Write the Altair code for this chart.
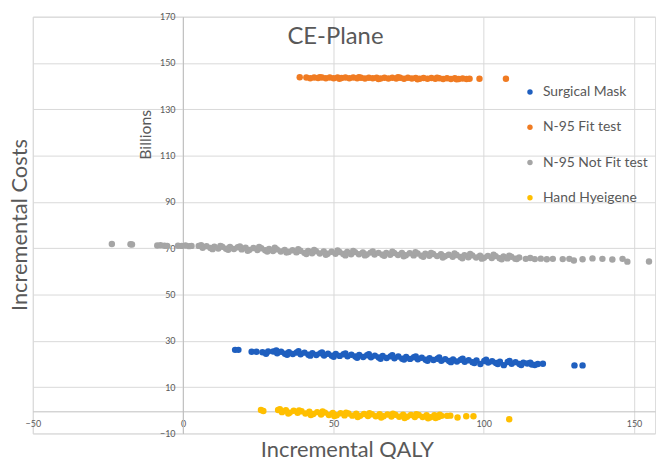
import altair as alt
import pandas as pd

series_names = ["Surgical Mask", "N-95 Fit test", "N-95 Not Fit test", "Hand Hyeigene"]
series_colors = ["#1f5fbf", "#f07b22", "#a5a5a5", "#ffbf00"]

x_ticks = [-50, 0, 50, 100, 150]
y_ticks = [-10, 10, 30, 50, 70, 90, 110, 130, 150, 170]

# Surgical Mask
sm_x = [17.3, 18.4, 22.8, 24.4, 26.4, 27.6, 28.3,
        30.0, 31.3, 32.6, 33.9, 35.2, 36.5, 37.8, 39.1, 40.4, 41.7, 43.0, 44.3, 45.6, 46.9,
        48.2, 49.5, 50.8, 52.1, 53.4, 54.7, 56.0, 57.3, 58.6, 59.9, 61.2, 62.5, 63.8, 65.1,
        66.4, 67.7, 69.0, 70.3, 71.6, 72.9, 74.2, 75.5, 76.8, 78.1, 79.4, 80.7, 82.0, 83.3,
        84.6, 85.9, 87.2, 88.5, 89.8, 91.1, 92.4, 93.7, 95.0, 96.3, 97.6, 98.9, 100.2, 101.5,
        102.8, 104.1, 105.4, 106.7, 108.0, 109.3, 110.6, 111.9, 113.2, 114.5,
        117.0, 118.0, 119.7, 130.2, 132.9,
        31.0, 34.6, 38.4, 42.3, 46.2, 50.1, 54.0, 57.9, 61.8, 65.7, 69.6, 73.5, 77.4, 81.3,
        85.2, 89.1, 93.0, 96.9, 100.8, 104.7, 108.6, 112.5, 115.5, 116.0]
sm_y = [26.1, 26.1, 25.3, 25.3, 25.1, 24.4, 25.4,
        25.4, 24.6, 25.3, 24.4, 25.1, 24.3, 25.0, 24.2, 24.9, 24.0, 24.7, 23.9, 24.6, 23.7,
        24.4, 23.6, 24.3, 23.5, 24.2, 23.3, 24.0, 23.2, 23.9, 23.0, 23.8, 22.9, 23.6, 22.8,
        23.5, 22.6, 23.3, 22.5, 23.2, 22.3, 23.0, 22.2, 22.9, 22.0, 22.7, 21.8, 22.5, 21.7,
        22.3, 21.4, 22.1, 21.3, 22.0, 21.1, 21.8, 21.0, 21.6, 20.8, 21.5, 20.0, 21.3, 20.6,
        21.2, 20.4, 21.0, 19.5, 20.9, 20.1, 20.8, 20.0, 20.6, 20.2,
        19.6, 20.0, 20.1, 19.4, 19.4,
        25.8, 24.0, 25.5, 23.6, 25.0, 23.1, 24.6, 22.7, 24.2, 22.3, 23.8, 21.9, 23.3, 21.4,
        22.8, 20.8, 22.3, 20.4, 21.8, 20.0, 21.3, 19.6, 20.5, 19.8]

# N-95 Fit test
fit_x = [38.8, 41.0, 42.3, 43.6, 44.9, 46.2, 47.5, 48.8, 50.1, 51.4, 52.7, 54.0, 55.3, 56.6,
         57.9, 59.2, 60.5, 61.8, 63.1, 64.4, 65.7, 67.0, 68.3, 69.6, 70.9, 72.2, 73.5, 74.8,
         76.1, 77.4, 78.7, 80.0, 81.3, 82.6, 83.9, 85.2, 86.5, 87.8, 89.1, 90.4, 91.7, 93.0,
         94.3, 95.3, 98.6, 107.4,
         45.5, 52.0, 58.5, 65.0, 71.5, 78.0, 84.5, 91.0]
fit_y = [143.8, 143.7, 143.4, 143.7, 143.5, 143.7, 143.4, 143.7, 143.4, 143.7, 143.5, 143.7,
         143.4, 143.7, 143.4, 143.6, 143.3, 143.6, 143.4, 143.6, 143.3, 143.6, 143.3, 143.6,
         143.3, 143.6, 143.2, 143.6, 143.3, 143.5, 143.2, 143.5, 143.2, 143.5, 143.2, 143.4,
         143.1, 143.4, 143.1, 143.4, 143.1, 143.3, 143.1, 143.2, 143.2, 143.2,
         143.9, 143.2, 143.9, 143.1, 143.8, 143.0, 143.6, 143.0]

# N-95 Not Fit test
nofit_x = [-23.7, -17.5, -17.0, -8.6, -7.5, -6.2, -5.3, -1.7, -0.5, 0.8, 2.0, 2.8,
           5.2, 6.5, 7.8, 9.1, 10.4, 11.7, 13.0, 14.3, 15.6, 16.9, 18.2, 19.5, 20.8, 22.1,
           23.4, 24.7, 26.0, 27.3, 28.6, 29.9, 31.2, 32.5, 33.8, 35.1, 36.4, 37.7, 39.0, 40.3,
           41.6, 42.9, 44.2, 45.5, 46.8, 48.1, 49.4, 50.7, 52.0, 53.3, 54.6, 55.9, 57.2, 58.5,
           59.8, 61.1, 62.4, 63.7, 65.0, 66.3, 67.6, 68.9, 70.2, 71.5, 72.8, 74.1, 75.4, 76.7,
           78.0, 79.3, 80.6, 81.9, 83.2, 84.5, 85.8, 87.1, 88.4, 89.7, 91.0, 92.3, 93.6, 94.9,
           96.2, 97.5, 98.8, 100.1, 101.4, 102.7, 104.0, 105.3, 106.6, 107.9, 109.2, 110.5, 111.8,
           114.0, 115.5, 117.0, 119.0, 121.0, 123.0, 126.3, 128.5, 130.0, 132.9, 136.2, 139.5,
           142.8, 146.2, 147.8, 155.0,
           6.0, 9.8, 12.4, 15.0, 18.9, 21.5, 25.3, 28.0, 30.5, 34.4, 38.3, 41.0, 43.6, 47.5,
           51.4, 54.0, 56.6, 60.5, 63.1, 66.9, 69.6, 73.4, 77.3, 79.9, 82.5, 86.4, 90.3, 92.9,
           95.5, 99.4, 103.3, 106.0, 108.5, 111.0]
nofit_y = [71.8, 71.7, 71.6, 71.2, 71.3, 71.1, 71.0, 71.1, 71.0, 71.2, 70.9, 71.0,
           71.0, 70.2, 70.9, 70.1, 70.7, 69.9, 70.6, 69.8, 70.5, 69.7, 70.4, 69.5, 70.2, 69.3,
           70.1, 69.2, 70.0, 69.1, 69.7, 68.8, 69.5, 68.6, 69.3, 68.4, 69.1, 68.2, 68.9, 68.0,
           68.8, 67.8, 68.7, 67.7, 68.6, 67.6, 68.5, 67.6, 68.4, 67.5, 68.4, 67.4, 68.3, 67.4,
           68.2, 67.3, 68.1, 67.3, 68.0, 67.2, 68.0, 67.2, 67.9, 67.1, 67.9, 67.0, 67.8, 66.9,
           67.7, 66.8, 67.6, 66.7, 67.5, 66.6, 67.4, 66.5, 67.2, 66.3, 67.1, 66.2, 67.0, 66.1,
           66.9, 66.0, 66.8, 65.9, 66.7, 65.8, 66.6, 65.7, 66.4, 65.6, 66.3, 65.5, 66.0,
           65.4, 65.8, 65.3, 65.5, 65.2, 65.4, 65.3, 65.4, 64.7, 65.2, 65.6, 65.4,
           65.1, 65.4, 64.2, 64.3,
           71.3, 69.6, 71.0, 69.3, 70.8, 68.9, 70.5, 68.6, 70.2, 68.1, 69.6, 67.5, 69.3, 67.2,
           69.0, 66.9, 68.8, 66.9, 68.6, 66.7, 68.5, 66.5, 68.3, 66.3, 68.0, 66.0, 67.7, 65.7,
           67.5, 65.5, 67.2, 65.2, 66.8, 65.3]

# Hand Hyeigene
hh_x = [25.9, 26.7,
        31.6, 32.9, 34.2, 35.5, 36.8, 38.1, 39.4, 40.7, 42.0, 43.3, 44.6, 45.9, 47.2, 48.5,
        49.8, 51.1, 52.4, 53.7, 55.0, 56.3, 57.6, 58.9, 60.2, 61.5, 62.8, 64.1, 65.4, 66.7,
        68.0, 69.3, 70.6, 71.9, 73.2, 74.5, 75.8, 77.1, 78.4, 79.7, 81.0, 82.3, 83.6, 84.9,
        86.0, 87.8, 88.9, 91.3, 94.2, 96.6, 108.5,
        32.2, 35.0, 38.6, 42.5, 46.4, 50.3, 54.2, 58.1, 62.0, 65.9, 69.8, 73.7, 77.6, 81.5,
        85.4, 84.0]
hh_y = [0.1, -0.3,
        0.1, -0.8, -0.0, -1.0, -0.2, -1.1, -0.4, -1.4, -0.6, -1.6, -0.8, -1.8, -1.0, -2.0,
        -1.2, -2.1, -1.3, -2.2, -1.4, -2.3, -1.5, -2.4, -1.6, -2.5, -1.7, -2.6, -1.7, -2.6,
        -1.8, -2.7, -1.9, -2.8, -1.9, -2.8, -2.0, -2.9, -2.0, -2.9, -2.1, -3.0, -2.1, -2.9,
        -2.4, -2.4, -2.3, -3.1, -2.6, -2.6, -3.9,
        0.5, -1.4, -0.1, -2.0, -0.5, -2.5, -1.0, -2.9, -1.3, -3.1, -1.5, -3.3, -1.7, -3.4,
        -1.9, -3.3]

rows = []
for name, xs, ys in [(series_names[0], sm_x, sm_y), (series_names[1], fit_x, fit_y),
                     (series_names[2], nofit_x, nofit_y), (series_names[3], hh_x, hh_y)]:
    for a, b in zip(xs, ys):
        rows.append({"series": name, "x": a, "y": b})
df = pd.DataFrame(rows)

FONT = "Lato"
TXT = "#595959"

points = alt.Chart(df).mark_circle(size=42, opacity=1).encode(
    x=alt.X("x:Q", scale=alt.Scale(domain=[-50, 157], nice=False, zero=False),
            axis=alt.Axis(values=x_ticks, offset=-22.3, grid=True, gridColor="#d9d9d9",
                          domainColor="#bfbfbf", ticks=False, labelFontSize=9,
                          labelColor=TXT, labelPadding=8, labelFont=FONT, title=None,
                          labelFlush=False)),
    y=alt.Y("y:Q", scale=alt.Scale(domain=[-10, 170], nice=False, zero=False),
            axis=alt.Axis(values=y_ticks, offset=-151.3, grid=True, gridColor="#d9d9d9",
                          domainColor="#bfbfbf", ticks=False, labelFontSize=9,
                          labelColor=TXT, labelPadding=8, labelFont=FONT, title=None,
                          labelFlush=False)),
    color=alt.Color("series:N", scale=alt.Scale(domain=series_names, range=series_colors),
                    legend=alt.Legend(orient="none", legendX=494, legendY=69, title=None,
                                      symbolType="circle", symbolSize=30, labelFontSize=14,
                                      labelColor=TXT, labelFont=FONT, rowPadding=21.5,
                                      labelOffset=6, padding=0, symbolStrokeWidth=0)),
)

title_df = pd.DataFrame({"t": ["CE-Plane"]})
title = alt.Chart(title_df).mark_text(fontSize=24, font=FONT, color=TXT, align="center",
                                      baseline="alphabetic").encode(
    text="t:N", x=alt.value(305), y=alt.value(28))

ytitle = alt.Chart(pd.DataFrame({"t": ["Incremental Costs"]})).mark_text(
    fontSize=22, font=FONT, color=TXT, align="center", baseline="alphabetic", angle=270
).encode(text="t:N", x=alt.value(-6), y=alt.value(210))

billions = alt.Chart(pd.DataFrame({"t": ["Billions"]})).mark_text(
    fontSize=16, font=FONT, color=TXT, align="center", baseline="alphabetic", angle=270
).encode(text="t:N", x=alt.value(119), y=alt.value(119))

xtitle = alt.Chart(pd.DataFrame({"t": ["Incremental QALY"]})).mark_text(
    fontSize=22, font=FONT, color=TXT, align="center", baseline="alphabetic"
).encode(text="t:N", x=alt.value(317), y=alt.value(444))

chart = alt.layer(points, title, ytitle, billions, xtitle).properties(
    width=627, height=420,
    autosize=alt.AutoSizeParams(type="none"),
    padding={"left": 25, "top": 7, "right": 2, "bottom": 24},
).configure_view(stroke=None).configure(background="white")

chart.save("out.html", embed_options={"renderer": "svg", "actions": False})
